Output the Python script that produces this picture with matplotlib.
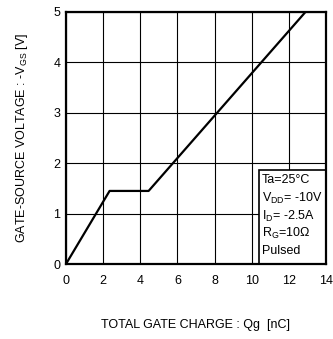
import matplotlib.pyplot as plt
from matplotlib.patches import Rectangle

plt.rcParams['font.family'] = ['Liberation Sans', 'DejaVu Sans']
plt.rcParams['mathtext.fontset'] = 'custom'
plt.rcParams['mathtext.rm'] = 'Liberation Sans'

# Gate charge curve
qg = [0, 2.35, 4.45, 12.9]
vgs = [0, 1.45, 1.45, 5.0]

xticks = [0, 2, 4, 6, 8, 10, 12, 14]
yticks = [0, 1, 2, 3, 4, 5]
cond_lines = ["Ta=25°C", "V$_{\\rm DD}$= -10V", "I$_{\\rm D}$= -2.5A",
              "R$_{\\rm G}$=10Ω", "Pulsed"]
cond_y = [1.67, 1.31, 0.95, 0.61, 0.26]

fig = plt.figure(figsize=(3.33, 3.39), dpi=100)
ax = fig.add_axes([0.198, 0.221, 0.781, 0.744])

ax.plot(qg, vgs, color="black", lw=1.6, zorder=3)
ax.set_xlim(0, 14)
ax.set_ylim(0, 5)
ax.set_xticks(xticks)
ax.set_yticks(yticks)
ax.grid(color="black", lw=0.8)
ax.tick_params(length=0, labelsize=9)
ax.tick_params(axis="x", pad=8)
ax.tick_params(axis="y", pad=4)
for s in ax.spines.values():
    s.set_linewidth(1.6)
    s.set_zorder(6)

ax.set_xlabel("TOTAL GATE CHARGE : Qg  [nC]", fontsize=9, labelpad=23)
ax.set_ylabel("GATE-SOURCE VOLTAGE : -V$_{\\rm GS}$ [V]", fontsize=9, labelpad=17)

# condition box
ax.add_patch(Rectangle((10.4, 0), 3.6, 1.86, fc="white", ec="black", lw=1.2, zorder=4))
for s, y in zip(cond_lines, cond_y):
    ax.text(10.55, y, s, fontsize=9, va="center", ha="left", zorder=5)

fig.savefig("out.png", dpi=100)
